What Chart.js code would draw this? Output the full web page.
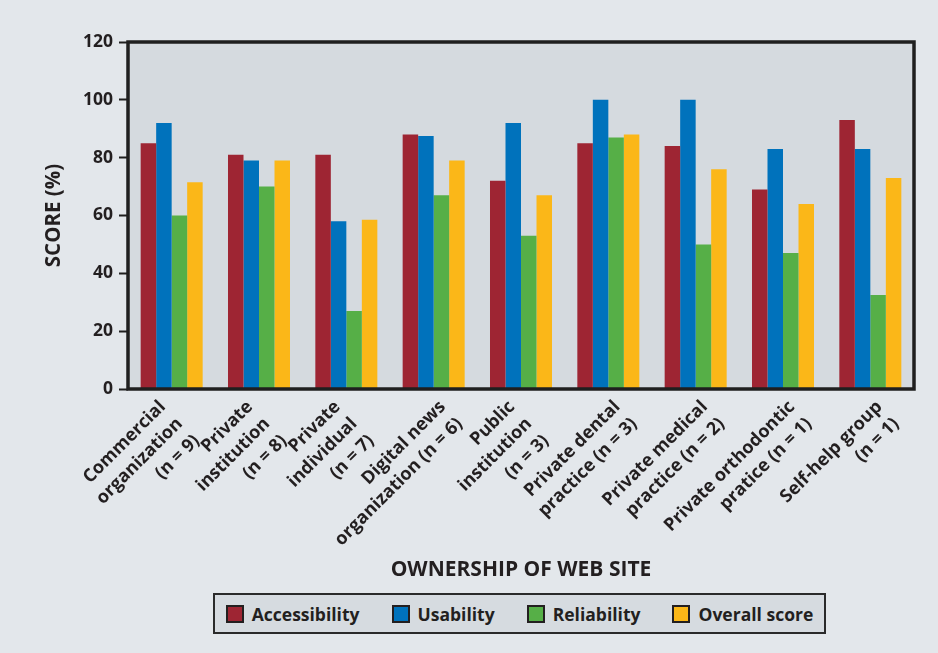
<!DOCTYPE html>
<html>
<head>
<meta charset="utf-8">
<script src="https://cdn.jsdelivr.net/npm/chart.js@4.4.1/dist/chart.umd.min.js"></script>
<style>
    html, body { margin: 0; padding: 0; background: #e3e7eb; }
    #wrap { position: relative; width: 938px; height: 653px; }
    #scoreLegend {
        position: absolute; left: 213px; top: 593px; width: 609px; height: 37px;
        border: 2px solid #2a2a2a; background: #d6dbe0;
        display: flex; align-items: center; justify-content: center; gap: 32px;
        font: bold 17.5px "Open Sans", sans-serif; color: #231f20;
    }
    #scoreLegend span.item { display: flex; align-items: center; }
    #scoreLegend span.swatch {
        display: inline-block; width: 14px; height: 14px; margin-right: 8px;
        border: 2px solid #231f20;
    }
</style>
</head>
<body>
<div id="wrap">
    <canvas id="scoreChart" width="938" height="653"></canvas>
    <div id="scoreLegend"></div>
</div>
<script>
const categories = [
    ['Commercial', 'organization', '(n = 9)'],
    ['Private', 'institution', '(n = 8)'],
    ['Private', 'individual', '(n = 7)'],
    ['Digital news', 'organization (n = 6)'],
    ['Public', 'institution', '(n = 3)'],
    ['Private dental', 'practice (n = 3)'],
    ['Private medical', 'practice (n = 2)'],
    ['Private orthodontic', 'pratice (n = 1)'],
    ['Self-help group', '(n = 1)']
];

const accessibility = [85, 81, 81, 88, 72, 85, 84, 69, 93];
const usability = [92, 79, 58, 87.5, 92, 100, 100, 83, 83];
const reliability = [60, 70, 27, 67, 53, 87, 50, 47, 32.5];
const overallScore = [71.5, 79, 58.5, 79, 67, 88, 76, 64, 73];

const yTickValues = [0, 20, 40, 60, 80, 100, 120];

const seriesNames = ['Accessibility', 'Usability', 'Reliability', 'Overall score'];
const seriesColors = ['#9e2533', '#0072bc', '#56af47', '#fbb718'];

const pageBg = '#e3e7eb';
const plotBg = '#d5dadf';
const ink = '#231f20';
const face = '"Open Sans", sans-serif';

// background fill and the heavy frame round the plot area
const plotFrame = {
    id: 'plotFrame',
    beforeDraw(chart) {
        const { ctx, chartArea: a } = chart;
        ctx.save();
        ctx.fillStyle = pageBg;
        ctx.fillRect(0, 0, chart.width, chart.height);
        ctx.fillStyle = plotBg;
        ctx.fillRect(a.left, a.top, a.right - a.left, a.bottom - a.top);
        ctx.restore();
    },
    afterDatasetsDraw(chart) {
        const { ctx, chartArea: a } = chart;
        ctx.save();
        ctx.strokeStyle = '#1f1f1f';
        ctx.lineWidth = 3.5;
        ctx.strokeRect(a.left, a.top, a.right - a.left, a.bottom - a.top);
        ctx.restore();
    }
};

// slanted category labels; each block is nudged sideways by its line count
// so that two- and three-line labels sit evenly under their bar groups
const slantedLabels = {
    id: 'slantedLabels',
    afterDraw(chart) {
        const { ctx } = chart;
        const scale = chart.scales.x;
        const lineHeight = 24;
        ctx.save();
        ctx.font = 'bold 18px ' + face;
        ctx.fillStyle = ink;
        ctx.textAlign = 'right';
        ctx.textBaseline = 'middle';
        categories.forEach((lines, i) => {
            const x = scale.getPixelForValue(i) + (2.5 - lines.length) * 18;
            const y = scale.top + 15;
            ctx.save();
            ctx.translate(x, y);
            ctx.rotate(-Math.PI / 4);
            lines.forEach((text, k) => ctx.fillText(text, 0, k * lineHeight));
            ctx.restore();
        });
        ctx.restore();
    }
};

const chart = new Chart(document.getElementById('scoreChart'), {
    type: 'bar',
    data: {
        labels: categories,
        datasets: [accessibility, usability, reliability, overallScore].map((values, i) => ({
            label: seriesNames[i],
            data: values,
            backgroundColor: seriesColors[i],
            borderWidth: 0,
            barPercentage: 1,
            categoryPercentage: 0.71
        }))
    },
    options: {
        responsive: false,
        animation: false,
        layout: { padding: { top: 42, right: 24, bottom: 68, left: 36 } },
        plugins: {
            legend: { display: false },
            tooltip: { enabled: false }
        },
        scales: {
            x: {
                grid: { display: false },
                border: { display: false },
                ticks: { display: false },
                title: {
                    display: true,
                    text: 'OWNERSHIP OF WEB SITE',
                    color: ink,
                    font: { family: face, weight: 'bold', size: 21 },
                    padding: { top: 0, bottom: 2 }
                },
                afterFit: scale => { scale.height = 196; }
            },
            y: {
                min: 0,
                max: 120,
                afterBuildTicks: scale => { scale.ticks = yTickValues.map(v => ({ value: v })); },
                grid: {
                    drawOnChartArea: false,
                    drawTicks: true,
                    tickLength: 9,
                    tickWidth: 2,
                    color: '#1f1f1f'
                },
                border: { display: false },
                ticks: {
                    color: ink,
                    font: { family: face, weight: 'bold', size: 17.5 },
                    padding: 6
                },
                title: {
                    display: true,
                    text: 'SCORE (%)',
                    color: ink,
                    font: { family: face, weight: 'bold', size: 20.5 },
                    padding: { top: 6, bottom: 0 }
                },
                afterFit: scale => { scale.width = 92; }
            }
        }
    },
    plugins: [plotFrame, slantedLabels]
});

// legend row with framed swatches, built from the chart's datasets
const legendEl = document.getElementById('scoreLegend');
chart.data.datasets.forEach(ds => {
    const item = document.createElement('span');
    item.className = 'item';
    const sw = document.createElement('span');
    sw.className = 'swatch';
    sw.style.background = ds.backgroundColor;
    item.appendChild(sw);
    item.appendChild(document.createTextNode(ds.label));
    legendEl.appendChild(item);
});
</script>
</body>
</html>
